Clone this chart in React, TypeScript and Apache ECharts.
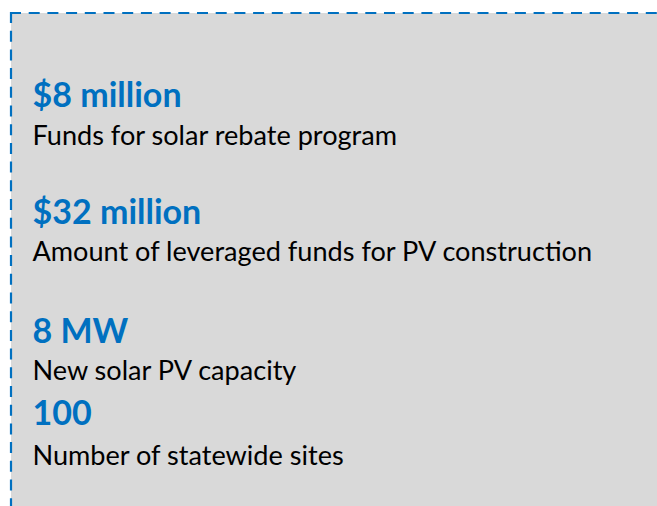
import React, { useEffect, useRef } from "react";
import * as echarts from "echarts";

const headlines: string[] = ["$8 million", "$32 million", "8 MW", "100"];
const descriptions: string[] = [
  "Funds for solar rebate program",
  "Amount of leveraged funds for PV construction",
  "New solar PV capacity",
  "Number of statewide sites",
];

// layout (baselines in px)
const headBaselines = [106, 223, 342, 424];
const descBaselines = [145, 261, 380, 465];

const BLUE = "#0070C0";
const GREY = "#D9D9D9";
const HEAD_SIZE = 34;
const DESC_SIZE = 27.1;
const FONT = "Lato, 'Noto Sans', sans-serif";

export default function App() {
  const ref = useRef<HTMLDivElement>(null);
  useEffect(() => {
    if (!ref.current) return;
    const chart = echarts.init(ref.current, undefined, { renderer: "svg" });
    const elements: any[] = [
      {
        type: "rect",
        shape: { x: 11, y: 13, width: 700, height: 600 },
        style: { fill: GREY },
        silent: true,
      },
      {
        type: "line",
        shape: { x1: 10, y1: 13, x2: 660, y2: 13 },
        style: { stroke: BLUE, lineWidth: 2.2, lineDash: [11, 7.7] },
      },
      {
        type: "line",
        shape: { x1: 11, y1: 12, x2: 11, y2: 510 },
        style: { stroke: BLUE, lineWidth: 2.2, lineDash: [11, 7.7] },
      },
    ];
    headlines.forEach((h, i) => {
      elements.push({
        type: "text",
        x: 32.5,
        y: headBaselines[i] - HEAD_SIZE * 0.3 - 2.5,
        style: {
          text: h,
          fill: BLUE,
          font: `bold ${HEAD_SIZE}px ${FONT}`,
          align: "left",
          verticalAlign: "middle",
        },
      });
    });
    descriptions.forEach((d, i) => {
      elements.push({
        type: "text",
        x: 32.5,
        y: descBaselines[i] - DESC_SIZE * 0.3 - 2.5,
        style: {
          text: d,
          fill: "#000000",
          font: `normal ${DESC_SIZE}px ${FONT}`,
          align: "left",
          verticalAlign: "middle",
        },
      });
    });
    chart.setOption({
      animation: false,
      backgroundColor: "#ffffff",
      graphic: { elements },
    });
    return () => chart.dispose();
  }, []);
  return (
    <div
      ref={ref}
      style={{ position: "absolute", left: 0, top: 0, width: 657, height: 506 }}
    />
  );
}
